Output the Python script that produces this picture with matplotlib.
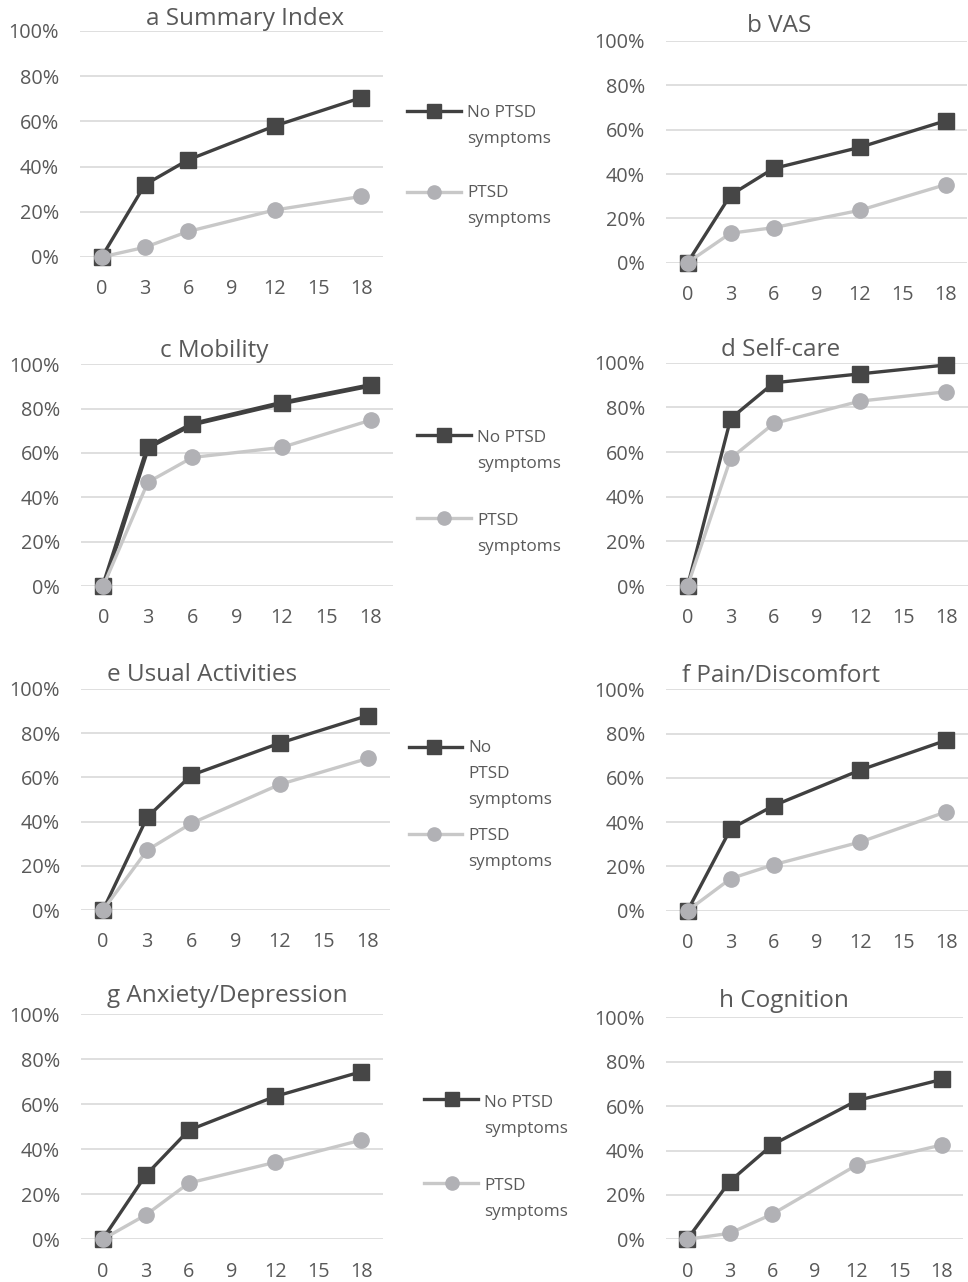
import matplotlib
matplotlib.use("Agg")
import matplotlib.pyplot as plt
from matplotlib.lines import Line2D
from matplotlib.ticker import PercentFormatter

plt.rcParams["font.family"] = ["Open Sans", "DejaVu Sans"]

# months since injury
months = [0, 3, 6, 12, 18]
xticks = [0, 3, 6, 9, 12, 15, 18]

titles = ["a Summary Index", "b VAS", "c Mobility", "d Self-care",
          "e Usual Activities", "f Pain/Discomfort", "g Anxiety/Depression",
          "h Cognition"]

# % of patients recovered
no_ptsd = [
    [0, 32.0, 43.0, 58.0, 70.5],
    [0, 30.5, 42.5, 52.0, 64.0],
    [0, 62.5, 73.0, 82.5, 90.5],
    [0, 75.0, 91.0, 95.0, 99.0],
    [0, 42.0, 61.0, 75.5, 88.0],
    [0, 37.0, 47.5, 63.5, 77.0],
    [0, 28.5, 48.5, 63.5, 74.5],
    [0, 26.0, 42.5, 62.5, 72.0],
]
ptsd = [
    [0, 4.3, 11.3, 20.8, 26.8],
    [0, 13.3, 15.8, 23.6, 35.2],
    [0, 46.8, 58.0, 62.5, 74.8],
    [0, 57.2, 72.8, 82.8, 87.0],
    [0, 27.1, 39.2, 56.8, 68.6],
    [0, 14.5, 20.8, 31.0, 44.7],
    [0, 10.8, 25.0, 34.2, 44.1],
    [0, 2.7, 11.3, 33.5, 42.5],
]

legend_no = ["No PTSD\nsymptoms", "No\nPTSD\nsymptoms"]
legend_yes = "PTSD\nsymptoms"

W, H = 968, 1282
DARK, DARK_MK = "#404040", "#464646"
LIGHT, LIGHT_MK = "#c8c8c8", "#b1b1b5"
TXT = "#595959"
GRID = "#d9d9d9"

# plot boxes in pixels: left, right, top, bottom
boxes = [
    (80, 383, 31, 257), (666, 967, 41, 262.7),
    (81, 393, 364.3, 586), (666, 968, 362.7, 586),
    (81, 390, 689, 910), (666, 968, 689.3, 910.7),
    (81, 383, 1014.3, 1239.3), (666, 963, 1017.3, 1239.3),
]
# title centre x and baseline y in pixels
title_pos = [(245, 25), (779, 31.7), (214.5, 356.7), (781, 356),
             (202.5, 680.7), (780.5, 682.3), (227, 1001.7), (783.7, 1007.3)]

fig = plt.figure(figsize=(W / 100, H / 100), dpi=100, facecolor="white")


def fx(px):
    return px / W


def fy(py):
    return 1 - py / H


for i, (l, r, t, b) in enumerate(boxes):
    ax = fig.add_axes([fx(l), fy(b), fx(r - l), (b - t) / H])
    lw_dark = 3.4 if i == 2 else 2.4
    ax.plot(months, [v / 100 for v in no_ptsd[i]], color=DARK, lw=lw_dark,
            marker="s", ms=11, mfc=DARK_MK, mec=DARK_MK, clip_on=False, zorder=3)
    ax.plot(months, [v / 100 for v in ptsd[i]], color=LIGHT, lw=2.4,
            marker="o", ms=11, mfc=LIGHT_MK, mec=LIGHT_MK, clip_on=False, zorder=4)
    ax.set_xlim(-1.5, 19.5)
    ax.set_ylim(0, 1)
    ax.set_xticks(xticks)
    ax.set_yticks([0, 0.2, 0.4, 0.6, 0.8, 1.0])
    ax.yaxis.set_major_formatter(PercentFormatter(1.0, decimals=0))
    ax.grid(axis="y", color=GRID, lw=1.2)
    ax.set_axisbelow(True)
    for s in ax.spines.values():
        s.set_visible(False)
    ax.tick_params(length=0, labelsize=14.3, labelcolor=TXT)
    ax.tick_params(axis="y", pad=15)
    ax.tick_params(axis="x", pad=16)
    tx, ty = title_pos[i]
    fig.text(fx(tx), fy(ty), titles[i], ha="center", va="baseline",
             fontsize=17.5, color=TXT)

# legends beside the left-hand panels (pixel layout)
# (line x0, x1, marker x, text x, dark line y, first baseline, light line y, light baseline, label idx)
legends = [
    (407, 461, 434, 467, 111, 117.3, 191.7, 197.3, 0),
    (417, 471, 444, 477, 435, 442.3, 518.3, 525, 0),
    (409, 462, 434, 468, 746.7, 752.3, 834, 840, 1),
    (424, 478, 452, 484, 1099, 1107.3, 1183.3, 1190, 0),
]
for x0, x1, xm, xt, yd, bd, yl, bl, k in legends:
    fig.add_artist(Line2D([fx(x0), fx(xm), fx(x1)], [fy(yd)] * 3,
                          transform=fig.transFigure, color=DARK, lw=2.4,
                          marker="s", ms=9.5, mfc=DARK_MK, mec=DARK_MK, markevery=[1]))
    fig.add_artist(Line2D([fx(x0), fx(xm), fx(x1)], [fy(yl)] * 3,
                          transform=fig.transFigure, color=LIGHT, lw=2.4,
                          marker="o", ms=9.5, mfc=LIGHT_MK, mec=LIGHT_MK, markevery=[1]))
    for j, line in enumerate(legend_no[k].split("\n")):
        fig.text(fx(xt), fy(bd + 26 * j), line, ha="left", va="baseline",
                 fontsize=12.3, color=TXT)
    for j, line in enumerate(legend_yes.split("\n")):
        fig.text(fx(xt), fy(bl + 26 * j), line, ha="left", va="baseline",
                 fontsize=12.3, color=TXT)

fig.savefig("out.png", dpi=100, facecolor="white")
